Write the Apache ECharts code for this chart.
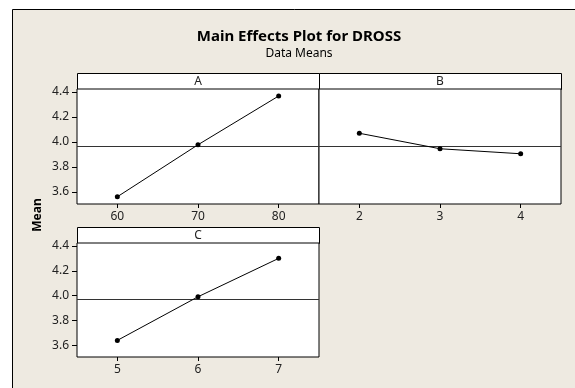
<!DOCTYPE html>
<html><head><meta charset="utf-8">
<script src="https://cdn.jsdelivr.net/npm/echarts@6/dist/echarts.min.js"></script>
<style>html,body{margin:0;padding:0;background:#fff}#c{width:575px;height:388px}</style>
</head><body><div id="c"></div>
<script>
// Data
const factorNames = ['A', 'B', 'C'];
const levelsA = [60, 70, 80];
const levelsB = [2, 3, 4];
const levelsC = [5, 6, 7];
const meansA = [3.562, 3.978, 4.368];
const meansB = [4.07, 3.946, 3.906];
const meansC = [3.638, 3.99, 4.30];
const grandMean = 3.97;
const yTicks = [3.6, 3.8, 4.0, 4.2, 4.4];
const xTicksA = [60, 70, 80];
const xTicksB = [2, 3, 4];
const xTicksC = [5, 6, 7];

const FONT = 'Noto Sans';
const chart = echarts.init(document.getElementById('c'));

const grids = [
  {left: 77, top: 89, width: 242, height: 115},
  {left: 319, top: 89, width: 242, height: 115},
  {left: 77, top: 243, width: 242, height: 114}
];
const xRanges = [[55, 85], [1.5, 4.5], [4.5, 7.5]];
const xTickSets = [xTicksA, xTicksB, xTicksC];
const levelSets = [levelsA, levelsB, levelsC];
const meanSets = [meansA, meansB, meansC];
const showY = [true, false, true];

const option = {
  backgroundColor: '#fff',
  animation: false,
  grid: grids.map(g => Object.assign({show: true, backgroundColor: '#fff', borderColor: '#000', borderWidth: 1, z: 1}, g)),
  xAxis: grids.map((g, i) => ({
    type: 'value', gridIndex: i, min: xRanges[i][0], max: xRanges[i][1],
    axisLine: {show: false},
    splitLine: {show: false},
    axisTick: {show: true, length: 4, lineStyle: {color: '#000'}, customValues: xTickSets[i]},
    axisLabel: {show: true, margin: 7, color: '#222', fontFamily: FONT, fontSize: 12, customValues: xTickSets[i]}
  })),
  yAxis: grids.map((g, i) => ({
    type: 'value', gridIndex: i, min: 3.504, max: 4.424,
    show: showY[i],
    axisLine: {show: false},
    splitLine: {show: false},
    axisTick: {show: true, length: 5, lineStyle: {color: '#000'}, customValues: yTicks},
    axisLabel: {show: true, margin: 8, color: '#222', fontFamily: FONT, fontSize: 12,
      formatter: v => v.toFixed(1), customValues: yTicks}
  })),
  series: grids.map((g, i) => ({
    type: 'line', xAxisIndex: i, yAxisIndex: i,
    data: levelSets[i].map((x, k) => [x, meanSets[i][k]]),
    symbol: 'circle', symbolSize: 5,
    lineStyle: {color: '#000', width: 1},
    itemStyle: {color: '#000'},
    z: 5,
    markLine: {
      silent: true, symbol: ['none', 'none'], label: {show: false},
      lineStyle: {color: '#333', width: 1, type: 'solid'},
      data: [{yAxis: grandMean}]
    }
  })),
  graphic: [
    {type: 'rect', z: -10, shape: {x: 12.5, y: 9.5, width: 600, height: 400},
      style: {fill: '#EEEAE1', stroke: '#000', lineWidth: 1}},
    {type: 'text', x: 299, y: 37, style: {text: 'Main Effects Plot for DROSS', font: 'bold 15px "Noto Sans"', fill: '#000', align: 'center', verticalAlign: 'middle'}},
    {type: 'text', x: 299, y: 54, style: {text: 'Data Means', font: '12px "Noto Sans"', fill: '#000', align: 'center', verticalAlign: 'middle'}},
    {type: 'text', x: 38, y: 215, rotation: Math.PI / 2, style: {text: 'Mean', font: 'bold 12px "Noto Sans"', fill: '#000', align: 'center', verticalAlign: 'middle'}},
    ...grids.map((g, i) => ({
      type: 'group', children: [
        {type: 'rect', shape: {x: g.left + 0.5, y: g.top - 15.5, width: g.width, height: 16},
          style: {fill: '#fff', stroke: '#000', lineWidth: 1}},
        {type: 'text', x: g.left + g.width / 2, y: g.top - 7.5,
          style: {text: factorNames[i], font: '12px "Noto Sans"', fill: '#222', align: 'center', verticalAlign: 'middle'}}
      ]
    }))
  ]
};
chart.setOption(option);
</script></body></html>
